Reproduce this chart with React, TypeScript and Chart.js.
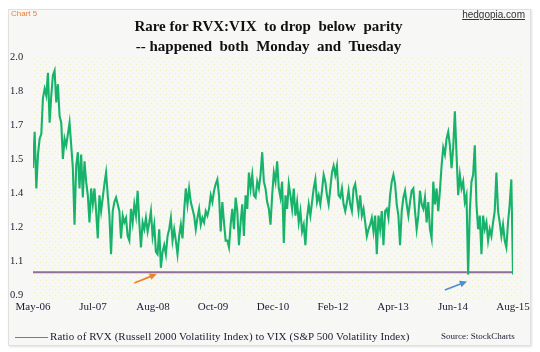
import { useEffect, useRef } from "react";
import { Chart, registerables } from "chart.js";

Chart.register(...registerables);

// Ratio of RVX to VIX (May-2006 .. Aug-2015), evenly spaced samples
const ratioValues: number[] = [
  // May-06 .. mid 2007
  1.46, 1.62, 1.37, 1.52, 1.59, 1.61, 1.77, 1.81, 1.78, 1.88,
  1.66, 1.78, 1.87, 1.89, 1.75, 1.83, 1.69, 1.66, 1.50, 1.59,
  1.56, 1.61, 1.66, 1.56, 1.46, 1.21, 1.47, 1.53, 1.37, 1.52,
  1.33, 1.49, 1.40, 1.34, 1.22, 1.37, 1.30, 1.37, 1.27, 1.15,
  1.34, 1.27, 1.33, 1.39, 1.44, 1.34, 1.25, 1.08, 1.27, 1.31,
  1.33, 1.30, 1.27, 1.15, 1.25, 1.22, 1.24, 1.16,
  // 2007 .. 2010
  1.14, 1.28, 1.22, 1.30, 1.25, 1.36, 1.22, 1.11, 1.22, 1.19,
  1.24, 1.18, 1.22, 1.27, 1.16, 1.21, 1.09, 1.08, 1.19, 1.02,
  1.09, 1.12, 1.08, 1.16, 1.19, 1.24, 1.14, 1.19, 1.14, 1.08,
  1.16, 1.21, 1.15, 1.27, 1.37, 1.30, 1.37, 1.31, 1.28, 1.25,
  1.19, 1.24, 1.28, 1.21, 1.24, 1.22, 1.27, 1.25, 1.28, 1.34,
  1.31, 1.36, 1.39, 1.41, 1.34, 1.18, 1.31, 1.22, 1.14,
  // 2010 .. 2012
  1.14, 1.11, 1.21, 1.28, 1.19, 1.33, 1.27, 1.12, 1.22, 1.30,
  1.16, 1.34, 1.28, 1.44, 1.37, 1.43, 1.34, 1.33, 1.40, 1.37,
  1.43, 1.53, 1.40, 1.37, 1.31, 1.28, 1.21, 1.34, 1.44, 1.40,
  1.49, 1.37, 1.33, 1.40, 1.13, 1.34, 1.28, 1.39, 1.34, 1.28,
  1.37, 1.25, 1.31, 1.22, 1.27, 1.18, 1.21, 1.12, 1.24, 1.30,
  1.25, 1.31, 1.37, 1.41, 1.31, 1.34, 1.30, 1.36, 1.43,
  // 2012 .. 2014
  1.40, 1.34, 1.30, 1.37, 1.44, 1.47, 1.43, 1.47, 1.34, 1.33,
  1.37, 1.30, 1.27, 1.31, 1.36, 1.30, 1.27, 1.37, 1.39, 1.33,
  1.27, 1.34, 1.25, 1.28, 1.22, 1.16, 1.19, 1.21, 1.24, 1.18,
  1.25, 1.08, 1.25, 1.19, 1.27, 1.12, 1.27, 1.28, 1.24, 1.34,
  1.40, 1.43, 1.39, 1.30, 1.25, 1.12, 1.27, 1.33, 1.36, 1.30,
  1.25, 1.31, 1.36, 1.37, 1.27, 1.19, 1.25, 1.36, 1.30,
  // 2014 .. Aug-15
  1.28, 1.33, 1.22, 1.31, 1.19, 1.15, 1.40, 1.30, 1.37, 1.27,
  1.36, 1.47, 1.55, 1.52, 1.59, 1.62, 1.56, 1.46, 1.55, 1.71,
  1.52, 1.34, 1.43, 1.37, 1.40, 1.31, 1.34, 0.99, 1.27, 1.40,
  1.43, 1.56, 1.30, 1.19, 1.25, 1.08, 1.25, 1.19, 1.22, 1.14,
  1.19, 1.16, 1.22, 1.27, 1.44, 1.27, 1.22, 1.16, 1.21, 1.14,
  1.11, 1.22, 1.30, 1.41, 0.99,
];

const xTickLabels = ["May-06", "Jul-07", "Aug-08", "Oct-09", "Dec-10", "Feb-12", "Apr-13", "Jun-14", "Aug-15"];
const yTickValues = [0.9, 1.05, 1.2, 1.35, 1.5, 1.65, 1.8, 1.95];
const yTickLabels = ["0.9", "1.1", "1.2", "1.4", "1.5", "1.7", "1.8", "2.0"];
const yMin = 0.9;
const yMax = 1.95;
const parityLevel = 1.0;

// annotation arrows in data units: [fromIndex, fromValue, toIndex, toValue]
const orangeArrow = [61, 0.953, 74.5, 0.993];
const blueArrow = [248, 0.922, 261.3, 0.96];

const seriesLabel = "Ratio of RVX (Russell 2000 Volatility Index) to VIX (S&P 500 Volatility Index)";

export default function App() {
  const canvasRef = useRef<HTMLCanvasElement | null>(null);

  useEffect(() => {
    const canvas = canvasRef.current;
    if (!canvas) return;
    const n = ratioValues.length;
    const lastIdx = n - 1;

    const dotPatternPlugin = {
      id: "dotPattern",
      beforeDatasetsDraw(chart: any) {
        const { ctx, chartArea } = chart;
        const tile = document.createElement("canvas");
        tile.width = 6;
        tile.height = 6;
        const t = tile.getContext("2d")!;
        t.fillStyle = "rgba(236,236,180,0.8)";
        t.fillRect(1, 1, 1, 1);
        t.fillRect(4, 4, 1, 1);
        const pat = ctx.createPattern(tile, "repeat");
        ctx.save();
        ctx.fillStyle = pat;
        ctx.fillRect(chartArea.left, chartArea.top, chartArea.right - chartArea.left + 8, chartArea.bottom - chartArea.top + 4);
        ctx.restore();
      },
    };

    const arrowPlugin = {
      id: "arrows",
      afterDatasetsDraw(chart: any) {
        const { ctx, scales } = chart;
        const draw = (a: number[], color: string) => {
          const x1 = scales.x.getPixelForValue(a[0]);
          const y1 = scales.y.getPixelForValue(a[1]);
          const x2 = scales.x.getPixelForValue(a[2]);
          const y2 = scales.y.getPixelForValue(a[3]);
          const ang = Math.atan2(y2 - y1, x2 - x1);
          const hl = 8;
          ctx.save();
          ctx.strokeStyle = color;
          ctx.fillStyle = color;
          ctx.lineWidth = 1.8;
          ctx.beginPath();
          ctx.moveTo(x1, y1);
          ctx.lineTo(x2 - Math.cos(ang) * hl * 0.8, y2 - Math.sin(ang) * hl * 0.8);
          ctx.stroke();
          ctx.beginPath();
          ctx.moveTo(x2, y2);
          ctx.lineTo(x2 - hl * Math.cos(ang - 0.45), y2 - hl * Math.sin(ang - 0.45));
          ctx.lineTo(x2 - hl * Math.cos(ang + 0.45), y2 - hl * Math.sin(ang + 0.45));
          ctx.closePath();
          ctx.fill();
          ctx.restore();
        };
        draw(orangeArrow, "#f0822c");
        draw(blueArrow, "#4f8fcf");
      },
    };

    const chart = new Chart(canvas, {
      type: "line",
      data: {
        datasets: [
          {
            label: seriesLabel,
            data: ratioValues.map((v, i) => ({ x: i, y: v })),
            borderColor: "#17b36b",
            borderWidth: 2.1,
            pointRadius: 0,
            tension: 0,
            order: 1,
          },
          {
            label: "Parity",
            data: [
              { x: 0, y: parityLevel },
              { x: lastIdx, y: parityLevel },
            ],
            borderColor: "#8c6f9c",
            borderWidth: 2,
            pointRadius: 0,
            order: 2,
          },
        ],
      },
      options: {
        animation: false,
        responsive: false,
        maintainAspectRatio: false,
        layout: { padding: { left: 10, top: 57, right: 27, bottom: 37 } },
        plugins: {
          legend: { display: false },
          tooltip: { enabled: false },
          title: { display: false },
        },
        scales: {
          x: {
            type: "linear",
            min: 0,
            max: lastIdx,
            grid: { display: false, drawTicks: false },
            border: { display: false },
            afterBuildTicks: (scale: any) => {
              scale.ticks = xTickLabels.map((_, k) => ({ value: (k * lastIdx) / (xTickLabels.length - 1) }));
            },
            afterFit: (scale: any) => {
              scale.height = 20;
            },
            ticks: {
              autoSkip: false,
              maxRotation: 0,
              padding: 6,
              color: "#1b1b33",
              font: { family: "'Liberation Serif', 'Times New Roman', serif", size: 11 },
              callback: (_v: any, i: number) => xTickLabels[i],
            },
          },
          y: {
            type: "linear",
            min: yMin,
            max: yMax,
            grid: { display: false, drawTicks: false },
            border: { display: false },
            afterBuildTicks: (scale: any) => {
              scale.ticks = yTickValues.map((v) => ({ value: v }));
            },
            afterFit: (scale: any) => {
              scale.width = 23;
            },
            ticks: {
              crossAlign: "far",
              padding: 0,
              color: "#1b1b33",
              font: { family: "'Liberation Serif', 'Times New Roman', serif", size: 10.5 },
              callback: (_v: any, i: number) => yTickLabels[i],
            },
          },
        },
      } as any,
      plugins: [dotPatternPlugin, arrowPlugin],
    });
    return () => chart.destroy();
  }, []);

  const serif = "'Liberation Serif', 'Times New Roman', serif";

  return (
    <div style={{ position: "fixed", left: 0, top: 0, width: 540, height: 352, background: "#ffffff", overflow: "hidden" }}>
      <div
        style={{
          position: "absolute",
          left: 8,
          top: 9,
          width: 521,
          height: 335,
          background: "#f7f7f5",
          border: "1px solid #e0e0de",
          boxShadow: "1px 1px 2px rgba(0,0,0,0.12)",
        }}
      />
      <canvas ref={canvasRef} width={540} height={352} style={{ position: "absolute", left: 0, top: 0, width: 540, height: 352 }} />
      <div style={{ position: "absolute", left: 11, top: 9, fontFamily: "'Liberation Sans', sans-serif", fontSize: 8, color: "#e8803a" }}>
        Chart 5
      </div>
      <div
        style={{
          position: "absolute",
          right: 15,
          top: 9,
          fontFamily: "'Liberation Sans', sans-serif",
          fontSize: 10,
          color: "#333",
          textDecoration: "underline",
        }}
      >
        hedgopia.com
      </div>
      <div
        style={{
          position: "absolute",
          left: 0,
          width: 537,
          top: 16,
          textAlign: "center",
          fontFamily: serif,
          fontWeight: "bold",
          fontSize: 15,
          lineHeight: "20px",
          color: "#111",
          whiteSpace: "pre",
        }}
      >
        {"Rare for RVX:VIX  to drop  below  parity\n-- happened  both  Monday  and  Tuesday"}
      </div>
      <div style={{ position: "absolute", left: 15, top: 337, width: 33, height: 0, borderTop: "1.6px solid #17b36b" }} />
      <div
        style={{
          position: "absolute",
          left: 50,
          top: 330,
          fontFamily: serif,
          fontSize: 11,
          letterSpacing: "0.08px",
          color: "#1b1b33",
          whiteSpace: "nowrap",
        }}
      >
        {seriesLabel}
      </div>
      <div
        style={{
          position: "absolute",
          left: 441,
          top: 331,
          fontFamily: serif,
          fontSize: 9,
          color: "#1b1b33",
          whiteSpace: "nowrap",
        }}
      >
        Source: StockCharts
      </div>
    </div>
  );
}
